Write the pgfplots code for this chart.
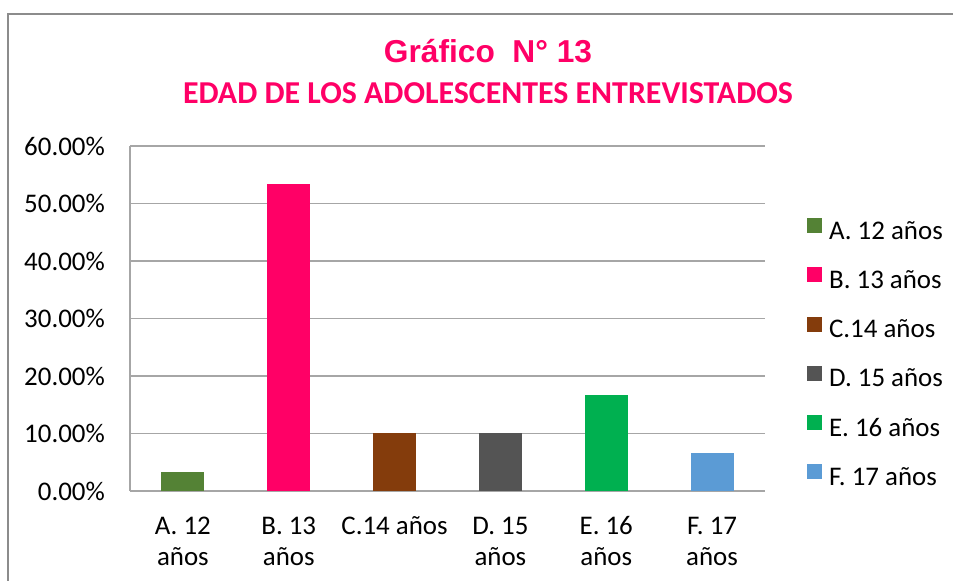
\documentclass[border=0pt]{standalone}
\usepackage{pgfplots}
\pgfplotsset{compat=1.18}
\usepackage{fontspec}
\setmainfont{Carlito}
\newfontfamily\arialf{Liberation Sans}
\definecolor{cA}{HTML}{548235}
\definecolor{cB}{HTML}{FF0066}
\definecolor{cC}{HTML}{843C0C}
\definecolor{cD}{HTML}{545454}
\definecolor{cE}{HTML}{00B050}
\definecolor{cF}{HTML}{5B9BD5}
\definecolor{gridg}{HTML}{A6A6A6}
\definecolor{borderg}{HTML}{8C8C8C}
\begin{document}
\begin{tikzpicture}[x=1bp,y=1bp]
\begin{axis}[
  at={(130bp,90bp)}, anchor=south west,
  scale only axis, width=635bp, height=345bp,
  ybar, bar width=43bp, bar shift=0pt,
  xmin=-0.5, xmax=5.5, ymin=0, ymax=60,
  xtick={0,1,2,3,4,5},
  xticklabels={{\strut A. 12\\años},{\strut B. 13\\años},{\strut C.14 años},{\strut D. 15\\años},{\strut E. 16\\años},{\strut F. 17\\años}},
  ytick={0,10,20,30,40,50,60},
  yticklabel={\pgfmathprintnumber[fixed,fixed zerofill,precision=2]{\tick}\%},
  /pgf/number format/assume math mode=true,
  major tick length=0pt,
  tick style={draw=none},
  ymajorgrids, grid style={gridg, line width=1.3bp},
  axis line style={gridg, line width=1.3bp},
  axis x line*=bottom, axis y line*=left,
  y axis line style={-}, x axis line style={-},
  yticklabel style={font=\fontsize{27}{32}\selectfont, inner sep=0pt, anchor=east, xshift=-25bp},
  xticklabel style={font=\fontsize{27}{31.5}\selectfont, inner sep=0pt, anchor=north, align=center, yshift=-21bp},
  legend style={draw=none, fill=none, at={(1.066,0.395)}, anchor=west,
    font=\fontsize{27}{32}\selectfont, inner sep=0pt, row sep=22.2bp, column sep=7bp,
    nodes={inner sep=0pt, text height=17bp, text depth=6bp}},
  legend cell align=left,
  legend image code/.code={\fill[#1] (0bp,0.5bp) rectangle (15bp,15.5bp);},
  clip=false,
]
\addplot[fill=cA, draw=none] coordinates {(0,3.33)};
\addplot[fill=cB, draw=none] coordinates {(1,53.33)};
\addplot[fill=cC, draw=none] coordinates {(2,10.00)};
\addplot[fill=cD, draw=none] coordinates {(3,10.00)};
\addplot[fill=cE, draw=none] coordinates {(4,16.67)};
\addplot[fill=cF, draw=none] coordinates {(5,6.67)};
\legend{A. 12 años, B. 13 años, C.14 años, D. 15 años, E. 16 años, F. 17 años}
\end{axis}
\node[anchor=base, text=cB, font=\arialf\bfseries\fontsize{31.8}{36}\selectfont, inner sep=0pt] at (488,518) {Gráfico\ \ N° 13};
\node[anchor=base, text=cB, font=\bfseries\fontsize{32}{36}\selectfont, inner sep=0pt] at (488,477) {EDAD DE LOS ADOLESCENTES ENTREVISTADOS};
\draw[borderg, line width=1.3bp] (8,-5) -- (8,567) -- (965,567);
\pgfresetboundingbox
\useasboundingbox (0,0) rectangle (953,581);
\end{tikzpicture}
\end{document}
